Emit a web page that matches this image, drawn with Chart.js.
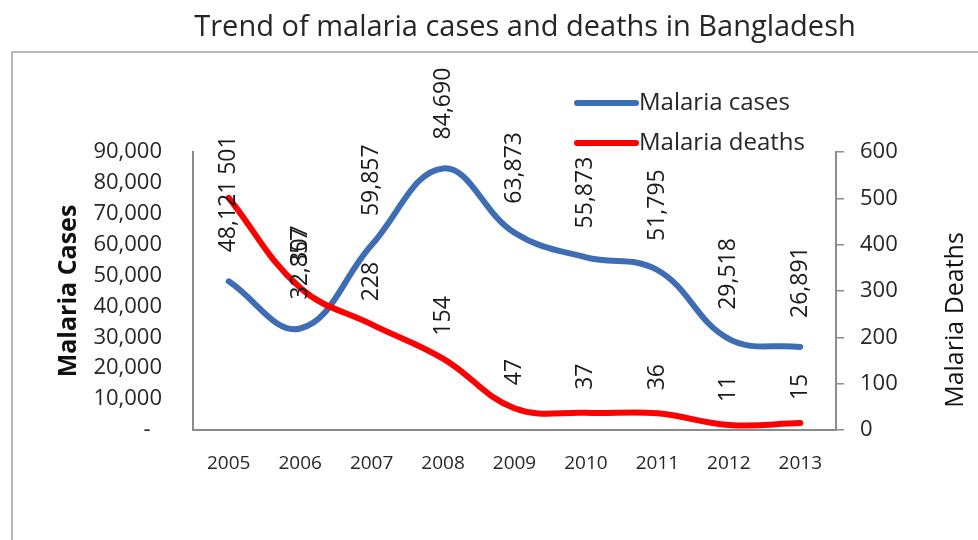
<!DOCTYPE html>
<html>
<head>
<meta charset="utf-8">
<title>Trend of malaria cases and deaths in Bangladesh</title>
<script src="https://cdn.jsdelivr.net/npm/chart.js@4.4.1/dist/chart.umd.min.js"></script>
<style>
  html, body { margin: 0; padding: 0; background: #ffffff; }
  #wrap { width: 978px; height: 540px; position: relative; }
</style>
</head>
<body>
<div id="wrap"><canvas id="chart" width="978" height="540"></canvas></div>
<script>
// Yearly malaria figures for Bangladesh
const years = ['2005', '2006', '2007', '2008', '2009', '2010', '2011', '2012', '2013'];
const malariaCases = [48121, 32857, 59857, 84690, 63873, 55873, 51795, 29518, 26891];
const malariaDeaths = [501, 307, 228, 154, 47, 37, 36, 11, 15];

const chartTitle = 'Trend of malaria cases and deaths in Bangladesh';
const seriesNames = ['Malaria cases', 'Malaria deaths'];
const axisTitles = ['Malaria Cases', 'Malaria Deaths'];

const FONT = '"Open Sans", "DejaVu Sans", sans-serif';
const TEXT = '#262626';
const AXIS = '#8c8c8c';
const BLUE = '#3e6db3';
const RED = '#ff0000';

// Title, outer frame, right-hand axis title and the in-plot legend
const decorations = {
  id: 'decorations',
  beforeDraw(chart) {
    const ctx = chart.ctx;
    ctx.save();
    ctx.fillStyle = '#ffffff';
    ctx.fillRect(0, 0, chart.width, chart.height);
    ctx.strokeStyle = '#a0a0a0';
    ctx.lineWidth = 1.5;
    ctx.beginPath();
    ctx.moveTo(12, chart.height + 2);
    ctx.lineTo(12, 52);
    ctx.lineTo(chart.width + 2, 52);
    ctx.stroke();

    ctx.fillStyle = TEXT;
    ctx.font = '29px ' + FONT;
    ctx.textAlign = 'center';
    ctx.textBaseline = 'middle';
    ctx.fillText(chartTitle, 525, 28);
    ctx.restore();
  },
  afterDraw(chart) {
    const ctx = chart.ctx;
    ctx.save();
    const rows = [103, 143];
    chart.data.datasets.forEach((ds, i) => {
      const y = rows[i];
      ctx.strokeStyle = ds.borderColor;
      ctx.lineWidth = 6;
      ctx.lineCap = 'round';
      ctx.beginPath();
      ctx.moveTo(577, y);
      ctx.lineTo(636, y);
      ctx.stroke();
      ctx.fillStyle = TEXT;
      ctx.font = '24px ' + FONT;
      ctx.textAlign = 'left';
      ctx.textBaseline = 'middle';
      ctx.fillText(ds.label, 639, y);
    });

    // title of the deaths axis, reading upwards
    const yd = chart.scales.yDeaths;
    ctx.fillStyle = '#111111';
    ctx.font = '25px ' + FONT;
    ctx.textAlign = 'center';
    ctx.textBaseline = 'middle';
    ctx.translate(956, (yd.top + yd.bottom) / 2 + 29);
    ctx.rotate(-Math.PI / 2);
    ctx.fillText(axisTitles[1], 0, 0);
    ctx.restore();
  }
};

// Vertical value labels written above each point
const valueLabels = {
  id: 'valueLabels',
  afterDatasetsDraw(chart) {
    const ctx = chart.ctx;
    ctx.save();
    ctx.fillStyle = '#1a1a1a';
    ctx.font = '23px ' + FONT;
    ctx.textAlign = 'left';
    ctx.textBaseline = 'middle';
    chart.data.datasets.forEach((ds, i) => {
      const meta = chart.getDatasetMeta(i);
      const gap = i === 0 ? 29 : 23;
      meta.data.forEach((pt, j) => {
        const txt = ds.data[j].toLocaleString('en-US');
        ctx.save();
        ctx.translate(pt.x, pt.y - gap);
        ctx.rotate(-Math.PI / 2);
        ctx.fillText(txt, 0, 0);
        ctx.restore();
      });
    });
    ctx.restore();
  }
};

new Chart(document.getElementById('chart'), {
  type: 'line',
  data: {
    labels: years,
    datasets: [
      {
        label: seriesNames[0],
        data: malariaCases,
        yAxisID: 'yCases',
        borderColor: BLUE,
        backgroundColor: BLUE,
        borderWidth: 6,
        borderCapStyle: 'round',
        pointRadius: 0,
        tension: 0.4,
        fill: false,
        order: 1
      },
      {
        label: seriesNames[1],
        data: malariaDeaths,
        yAxisID: 'yDeaths',
        borderColor: RED,
        backgroundColor: RED,
        borderWidth: 6,
        borderCapStyle: 'round',
        pointRadius: 0,
        tension: 0.4,
        fill: false,
        order: 0
      }
    ]
  },
  options: {
    responsive: false,
    animation: false,
    layout: { padding: { left: 52, right: 6, top: 152, bottom: 0 } },
    plugins: {
      legend: { display: false },
      title: { display: false },
      tooltip: { enabled: false }
    },
    scales: {
      x: {
        type: 'category',
        offset: true,
        grid: { display: false },
        border: { display: true, color: AXIS, width: 2 },
        ticks: { color: TEXT, font: { family: FONT, size: 19 }, padding: 14, maxRotation: 0 },
        afterFit(scale) { scale.height = 110; }
      },
      yCases: {
        type: 'linear',
        position: 'left',
        min: 0,
        max: 90000,
        grid: { display: false },
        border: { display: true, color: AXIS, width: 2 },
        ticks: {
          stepSize: 10000,
          color: TEXT,
          font: { family: FONT, size: 22 },
          padding: 23,
          callback: (v) => v === 0 ? '-  ' : v.toLocaleString('en-US')
        },
        title: {
          display: true,
          text: axisTitles[0],
          color: '#111111',
          font: { family: FONT, size: 25, weight: 'bold' },
          padding: 2
        },
        afterFit(scale) { scale.width = 193 - 52; }
      },
      yDeaths: {
        type: 'linear',
        position: 'right',
        min: 0,
        max: 600,
        grid: { display: true, drawOnChartArea: false, drawTicks: true, tickLength: 8, color: AXIS, lineWidth: 1.5 },
        border: { display: true, color: AXIS, width: 2 },
        ticks: {
          stepSize: 100,
          color: TEXT,
          font: { family: FONT, size: 22 },
          padding: 16
        },
        title: { display: false },
        afterFit(scale) { scale.width = 978 - 836 - 6; }
      }
    }
  },
  plugins: [decorations, valueLabels]
});
</script>
</body>
</html>
